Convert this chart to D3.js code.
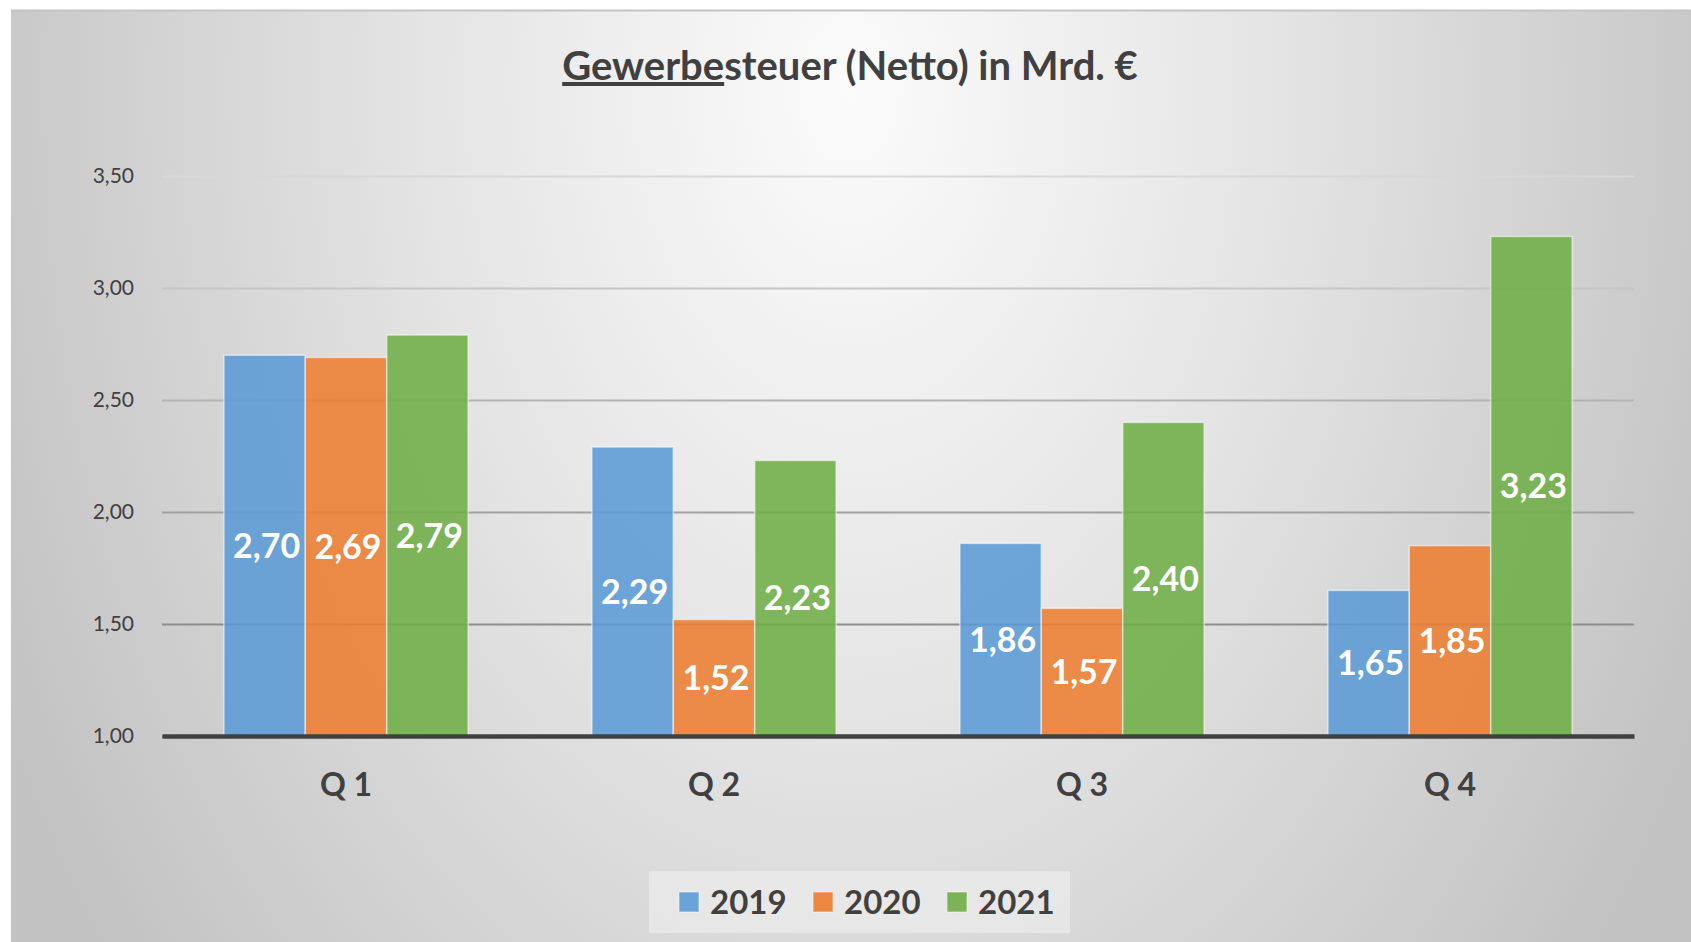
<!DOCTYPE html>
<html>
<head>
<meta charset="utf-8">
<script src="https://cdn.jsdelivr.net/npm/d3@7"></script>
<style>
  html, body { margin: 0; padding: 0; background: #ffffff; }
  svg { display: block; font-family: Lato, "Open Sans", sans-serif; }
</style>
</head>
<body>
<div id="chart"></div>
<script>
// Chart data
const quarters = ["Q 1", "Q 2", "Q 3", "Q 4"];
const years = ["2019", "2020", "2021"];
const values2019 = [2.70, 2.29, 1.86, 1.65];
const values2020 = [2.69, 1.52, 1.57, 1.85];
const values2021 = [2.79, 2.23, 2.40, 3.23];
const yTicks = [1.0, 1.5, 2.0, 2.5, 3.0, 3.5];
const colors = ["#5B9BD5", "#ED7D31", "#70AD47"];

const width = 1691;
const height = 942;

// Plot area
const plotLeft = 162, plotRight = 1634, plotTop = 176, plotBottom = 736;

// German number format (comma decimal)
const de = d3.formatLocale({ decimal: ",", thousands: ".", grouping: [3], currency: ["", " €"] });
const fmt = de.format(".2f");

// Table used for drawing the bars
const series = [values2019, values2020, values2021];
const rows = [];
quarters.forEach((q, i) => {
  years.forEach((yr, j) => rows.push({ quarter: q, year: yr, value: series[j][i], color: colors[j] }));
});

const svg = d3.select("#chart")
  .append("svg")
  .attr("width", width)
  .attr("height", height);

const defs = svg.append("defs");

// Background: soft radial gradient like the Excel chart
const bg = defs.append("radialGradient")
  .attr("id", "bgGrad")
  .attr("gradientUnits", "userSpaceOnUse")
  .attr("cx", 0).attr("cy", 0).attr("r", 1)
  .attr("gradientTransform", "translate(850,90) scale(950,1400)");
bg.append("stop").attr("offset", 0).attr("stop-color", "#fbfbfb");
bg.append("stop").attr("offset", 0.45).attr("stop-color", "#e4e4e4");
bg.append("stop").attr("offset", 1).attr("stop-color", "#c2c2c2");

svg.append("rect")
  .attr("x", 11).attr("y", 11)
  .attr("width", width - 11).attr("height", height - 11)
  .attr("fill", "url(#bgGrad)");

svg.append("line")
  .attr("x1", 11).attr("x2", width)
  .attr("y1", 10.5).attr("y2", 10.5)
  .attr("stroke", "#c4c4c4")
  .attr("stroke-width", 2);

// Title with underlined first part
const title = svg.append("text")
  .attr("x", 850)
  .attr("y", 80)
  .attr("text-anchor", "middle")
  .style("font-size", "40px")
  .style("font-weight", 700)
  .style("fill", "#404040");
title.append("tspan").text("Gewerbe").style("text-decoration", "underline");
title.append("tspan").text("steuer (Netto) in Mrd. €");

// Scales
const x = d3.scaleBand()
  .domain(quarters)
  .range([plotLeft, plotRight])
  .paddingInner(0)
  .paddingOuter(0);

const xInner = d3.scaleBand()
  .domain(years)
  .range([0, x.bandwidth()])
  .paddingInner(0)
  .paddingOuter(0.76);

const y = d3.scaleLinear()
  .domain([1, 3.5])
  .range([plotBottom, plotTop]);

// gridlines fade out towards the top
const gridColor = d3.scaleLinear()
  .domain([3.5, 1.5])
  .range(["#d8d8d8", "#8e8e8e"]);

// Y axis with gridlines
const yAxis = svg.append("g")
  .attr("transform", `translate(${plotLeft},0)`)
  .call(d3.axisLeft(y)
    .tickValues(yTicks)
    .tickFormat(fmt)
    .tickSize(-(plotRight - plotLeft))
    .tickPadding(28));
yAxis.select(".domain").remove();
yAxis.selectAll(".tick line")
  .attr("stroke", d => gridColor(d))
  .attr("stroke-width", 2);
yAxis.selectAll(".tick text")
  .style("font-family", "Lato, sans-serif")
  .style("font-size", "21px")
  .style("fill", "#404040");

// Bars
const bars = svg.append("g")
  .selectAll("rect")
  .data(rows)
  .enter().append("rect")
  .attr("x", d => x(d.quarter) + xInner(d.year))
  .attr("y", d => y(d.value))
  .attr("width", xInner.bandwidth())
  .attr("height", d => y(1) - y(d.value))
  .style("fill", d => d.color)
  .style("fill-opacity", 0.88)
  .style("stroke", "rgba(255,255,255,0.55)")
  .style("stroke-width", 1.5);

// Value labels inside the bars
svg.append("g")
  .selectAll("text")
  .data(rows)
  .enter().append("text")
  .attr("x", d => x(d.quarter) + xInner(d.year) + xInner.bandwidth() / 2 + 2)
  .attr("y", d => (y(d.value) + y(1)) / 2)
  .attr("dy", "0.36em")
  .attr("text-anchor", "middle")
  .style("font-size", "34px")
  .style("font-weight", 700)
  .style("fill", "#ffffff")
  .text(d => fmt(d.value));

// X axis (thick baseline + category labels)
const xAxis = svg.append("g")
  .attr("transform", `translate(0,${plotBottom})`)
  .call(d3.axisBottom(x).tickSize(0).tickPadding(0));
xAxis.select(".domain")
  .attr("stroke", "#404040")
  .attr("stroke-width", 4.5);
xAxis.selectAll(".tick text")
  .attr("y", 48)
  .attr("dy", "0.36em")
  .style("font-family", "Lato, sans-serif")
  .style("font-size", "32px")
  .style("font-weight", 700)
  .style("fill", "#404040");

// Legend
const legendX = 649, legendY = 871, legendW = 421, legendH = 62, step = 134;
svg.append("rect")
  .attr("x", legendX).attr("y", legendY)
  .attr("width", legendW).attr("height", legendH)
  .attr("fill", "#f4f4f4")
  .attr("fill-opacity", 0.5);

const legend = svg.append("g")
  .selectAll("g")
  .data(years)
  .enter().append("g")
  .attr("transform", (d, i) => `translate(${legendX + 30 + i * step},${legendY + legendH / 2})`);

legend.append("rect")
  .attr("x", 0).attr("y", -10)
  .attr("width", 20).attr("height", 20)
  .style("fill", (d, i) => colors[i])
  .style("fill-opacity", 0.9)
  .style("stroke", "rgba(255,255,255,0.55)")
  .style("stroke-width", 1);

legend.append("text")
  .attr("x", 31)
  .attr("dy", "0.36em")
  .style("font-size", "33px")
  .style("font-weight", 700)
  .style("fill", "#404040")
  .text(d => d);
</script>
</body>
</html>
